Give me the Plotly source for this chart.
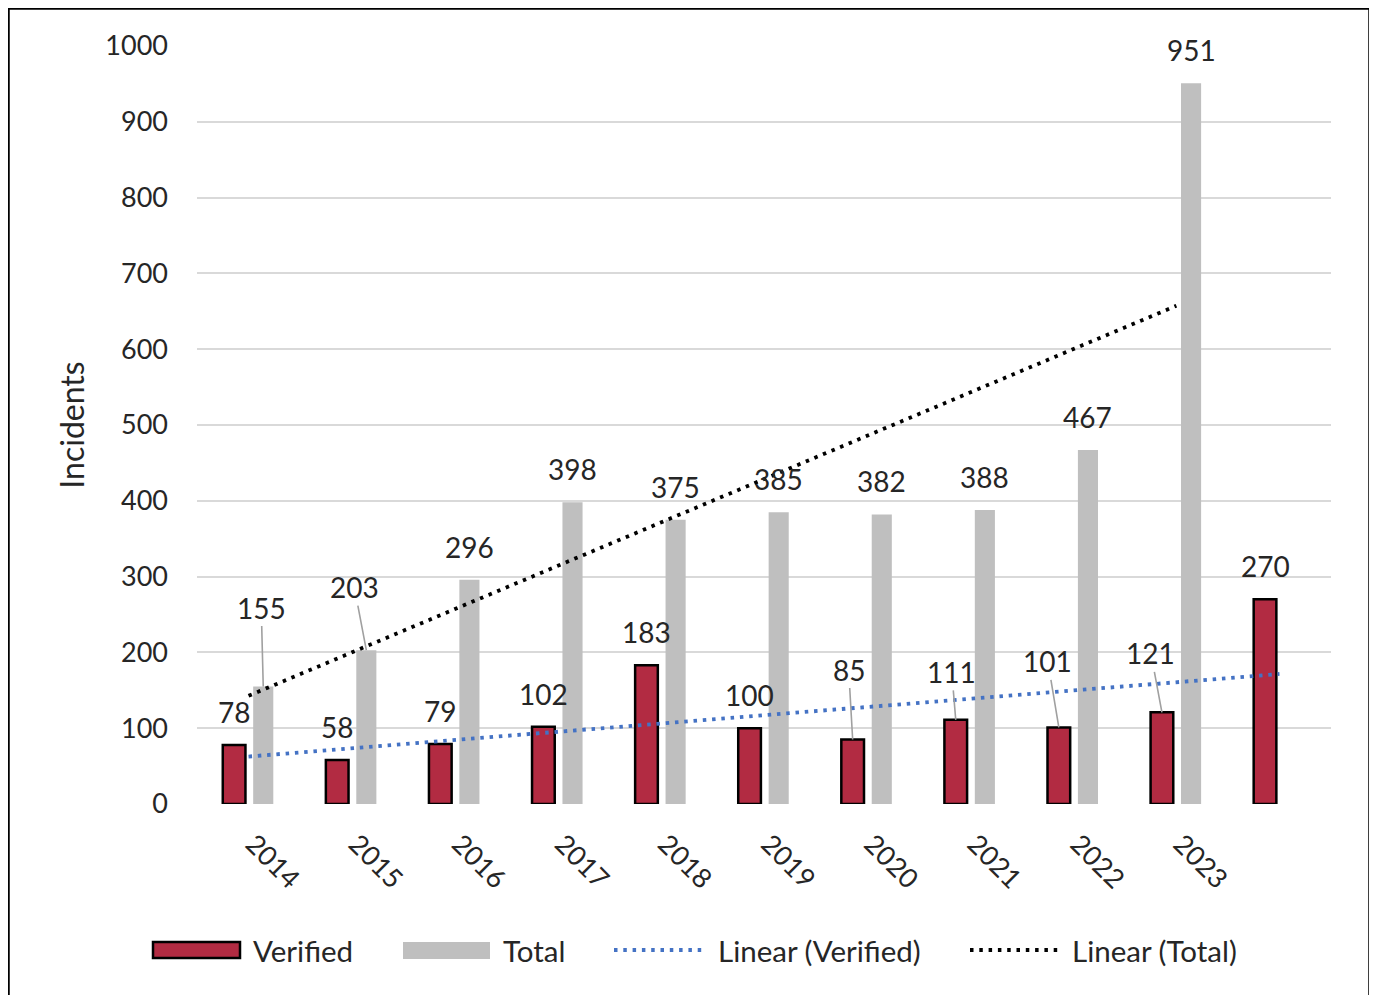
import numpy as np
import plotly.graph_objects as go

# ---------------- data ----------------
years = ["2014", "2015", "2016", "2017", "2018", "2019", "2020", "2021", "2022", "2023"]
verified = [78, 58, 79, 102, 183, 100, 85, 111, 101, 121, 270]
total = [155, 203, 296, 398, 375, 385, 382, 388, 467, 951]
y_ticks = [0, 100, 200, 300, 400, 500, 600, 700, 800, 900, 1000]
legend_names = ["Verified", "Total", "Linear (Verified)", "Linear (Total)"]

# ---------------- style ----------------
FONT = "Lato"
TXT = "#262626"
RED = "#B22B42"
GRAY = "#BFBFBF"
GRID = "#D9D9D9"
BLUE = "#4472C4"
DOTS = "3.5px,5.8px"

PAGE_OFF = 8                      # browser body margin
W, H = 1369, 987
ML, MR, MT, MB = 189, 46, 38, 191
pw = W - ML - MR
ph = H - MT - MB


def px(page_x):                   # page pixel -> paper x
    return (page_x - PAGE_OFF - ML) / pw


def py(page_y):                   # page pixel -> paper y
    return (H - MB - (page_y - PAGE_OFF)) / ph


VER_W, VER_OFF = 0.22, -0.25      # bar width / left offset (category units)
TOT_W, TOT_OFF = 0.195, 0.045
ver_center = VER_OFF + VER_W / 2
tot_center = TOT_OFF + TOT_W / 2

# manually moved labels (pixel offsets of label centre from bar top); others sit above
VER_MOVED = {6: (-4, -70), 7: (-4, -48), 8: (-11, -66), 9: (-11, -59)}
TOT_MOVED = {0: (-2, -79), 1: (-12, -63)}
LABEL_LIFT = 33

x_ver = np.arange(len(verified))
x_tot = np.arange(len(total))


def linear_trend(vals):
    xs = np.arange(1, len(vals) + 1)
    m, b = np.polyfit(xs, np.asarray(vals, dtype=float), 1)
    return m * xs + b


fig = go.Figure()
fig.add_trace(go.Bar(
    x=x_ver, y=verified, name=legend_names[0], width=VER_W, offset=VER_OFF,
    marker=dict(color=RED, line=dict(color="#000000", width=2.5)),
))
fig.add_trace(go.Bar(
    x=x_tot, y=total, name=legend_names[1], width=TOT_W, offset=TOT_OFF,
    marker=dict(color=GRAY, line=dict(width=0)),
))
fig.add_trace(go.Scatter(
    x=x_ver, y=linear_trend(verified), name=legend_names[2], mode="lines",
    line=dict(color=BLUE, width=3.8, dash=DOTS),
))
fig.add_trace(go.Scatter(
    x=x_tot, y=linear_trend(total), name=legend_names[3], mode="lines",
    line=dict(color="#000000", width=3.8, dash=DOTS),
))

annotations = []


def add_labels(xs, vals, center, moved):
    for i, v in zip(xs, vals):
        base = dict(x=i + center, y=v, xref="x", yref="y", text=str(v),
                    font=dict(family=FONT, size=28, color=TXT))
        if i in moved:
            dx, dy = moved[i]
            base.update(showarrow=True, arrowhead=0, arrowwidth=1.6,
                        arrowcolor="#A0A0A0", ax=dx, ay=dy, standoff=0)
        else:
            base.update(showarrow=False, yshift=LABEL_LIFT)
        annotations.append(base)


add_labels(x_ver, verified, ver_center, VER_MOVED)
add_labels(x_tot, total, tot_center, TOT_MOVED)

# ---------------- legend (drawn as Excel-style wide swatches) ----------------
LEG_Y = 950
shapes = [
    dict(type="rect", xref="paper", yref="paper", x0=px(153), x1=px(240),
         y0=py(942), y1=py(958), fillcolor=RED, line=dict(color="#000000", width=2.5)),
    dict(type="rect", xref="paper", yref="paper", x0=px(403), x1=px(490),
         y0=py(942), y1=py(959), fillcolor=GRAY, line=dict(width=0)),
    dict(type="line", xref="paper", yref="paper", x0=px(614), x1=px(702),
         y0=py(LEG_Y), y1=py(LEG_Y), line=dict(color=BLUE, width=3.8, dash=DOTS)),
    dict(type="line", xref="paper", yref="paper", x0=px(970), x1=px(1058),
         y0=py(LEG_Y), y1=py(LEG_Y), line=dict(color="#000000", width=3.8, dash=DOTS)),
    # chart-area border
    dict(type="rect", xref="paper", yref="paper", x0=px(8.5), x1=px(1369.5),
         y0=py(8.5), y1=py(1030), line=dict(color="#000000", width=2.5),
         fillcolor="rgba(0,0,0,0)"),
]
for name, tx in zip(legend_names, [251, 501, 716, 1070]):
    annotations.append(dict(
        x=px(tx), y=py(LEG_Y), xref="paper", yref="paper", text=name,
        showarrow=False, xanchor="left", yanchor="middle",
        font=dict(family=FONT, size=29.5, color=TXT),
    ))

fig.update_layout(
    width=W, height=H,
    margin=dict(l=ML, r=MR, t=MT, b=MB, pad=0),
    paper_bgcolor="white", plot_bgcolor="white",
    font=dict(family=FONT, color=TXT),
    barmode="overlay",
    showlegend=False,
    xaxis=dict(
        range=[-0.5, len(verified) - 0.5],
        tickmode="array", tickvals=list(range(len(years))), ticktext=years,
        tickangle=45, tickfont=dict(family=FONT, size=27, color=TXT),
        showgrid=False, zeroline=False, showline=False, ticks="",
        ticklabelstandoff=18, ticklabelshift=5,
    ),
    yaxis=dict(
        range=[0, 1000], tickmode="array", tickvals=y_ticks,
        tickfont=dict(family=FONT, size=27, color=TXT),
        showgrid=True, gridcolor=GRID, gridwidth=2,
        zeroline=False, showline=False, ticks="",
        ticklabelstandoff=28,
        title=dict(text="Incidents", font=dict(family=FONT, size=32, color=TXT), standoff=11),
    ),
    annotations=annotations,
    shapes=shapes,
)

fig.write_html("out.html")
